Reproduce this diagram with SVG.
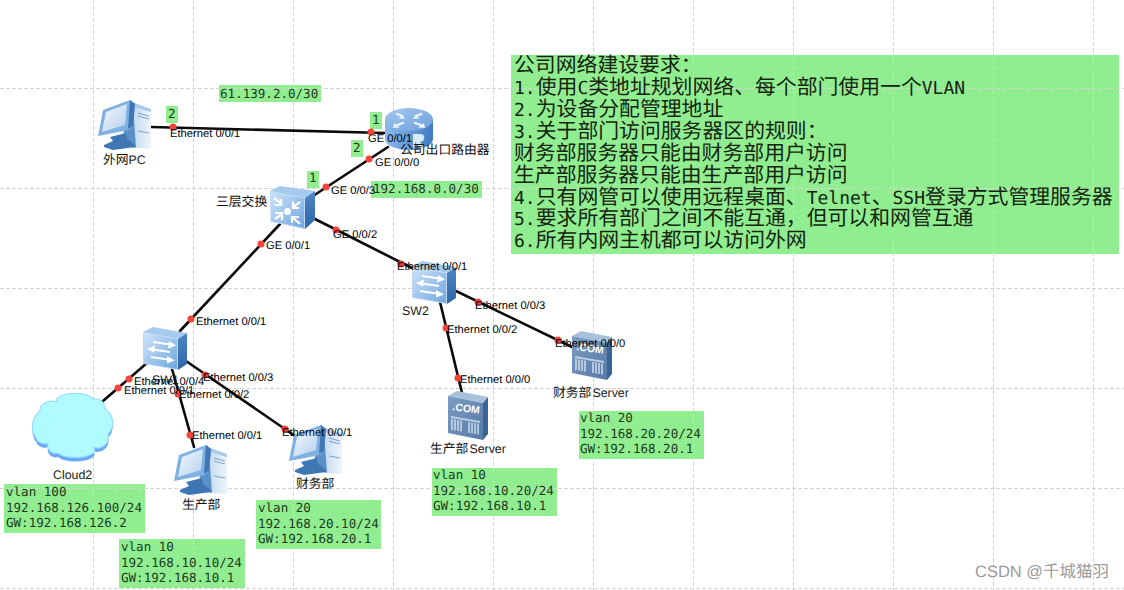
<svg xmlns="http://www.w3.org/2000/svg" width="1124" height="590" viewBox="0 0 1124 590">
<style>
text{white-space:pre;text-rendering:geometricPrecision}
.box{fill:#90ee90}
.grid{stroke:#d4d4d4;stroke-width:1;stroke-dasharray:4 2;fill:none}
.link{stroke:#0a0a0a;stroke-width:2.6;fill:none;stroke-linecap:round}
.dot{fill:#f4433a}
.port{font:11.2px "Liberation Sans","Noto Sans CJK SC",sans-serif;fill:#000}
.dev{font:12.4px "Liberation Sans","Noto Sans CJK SC",sans-serif;fill:#222}
.devc{font:12.8px "Noto Sans CJK SC",sans-serif;fill:#111}
.com{font:700 10.5px "Liberation Sans",sans-serif;fill:#fff}
.mono{font:12.55px "DejaVu Sans Mono","Liberation Mono",monospace;fill:#1c3a1c}
.note{font:20.85px "Noto Sans CJK SC",sans-serif;fill:#14240f}
.asc{font:18px "DejaVu Sans Mono","Liberation Mono",monospace}
.wm{font:16.5px "Liberation Sans","Noto Sans CJK SC",sans-serif;fill:#9a9a9a}
</style>
<defs>
<linearGradient id="gFront" x1="0" y1="0" x2="1" y2="1"><stop offset="0" stop-color="#cfe5fa"/><stop offset="1" stop-color="#6fa6de"/></linearGradient>
<linearGradient id="gSide" x1="0" y1="0" x2="0" y2="1"><stop offset="0" stop-color="#4f86c4"/><stop offset="1" stop-color="#2c66a8"/></linearGradient>
<linearGradient id="gRouter" x1="0" y1="0" x2="1" y2="0"><stop offset="0" stop-color="#8ab8ea"/><stop offset="1" stop-color="#3f7cc4"/></linearGradient>
<linearGradient id="gRouterTop" x1="0" y1="0" x2="1" y2="1"><stop offset="0" stop-color="#a5c8ef"/><stop offset="1" stop-color="#6d9fdb"/></linearGradient>
<linearGradient id="gServer" x1="0" y1="0" x2="1" y2="1"><stop offset="0" stop-color="#7d9cc2"/><stop offset="1" stop-color="#557aa8"/></linearGradient>
<linearGradient id="gScreen" x1="0" y1="0" x2="1" y2="1"><stop offset="0" stop-color="#f6fafe"/><stop offset="1" stop-color="#b3cfec"/></linearGradient>
<linearGradient id="gTower" x1="0" y1="0" x2="1" y2="0"><stop offset="0" stop-color="#c4daf0"/><stop offset="1" stop-color="#eef5fb"/></linearGradient>
<g id="pc">
<path d="M25 3 L37 7 L39 48 L26 46 Z" fill="#5b90c8"/>
<path d="M35 6 L53 11 V49 L38 48 Z" fill="url(#gTower)"/>
<path d="M25 3 L31 1 L53 9 V12 L36 7 Z" fill="#a9c9e8"/>
<path d="M40 13 L51 16 M40 16 L51 19 M40 31 L51 33" stroke="#7ea7d0" stroke-width="1.200"/>
<path d="M12 37 L28 33 L29 39 L37 45 L37 47 L15 50 L6 47 L6 45 L15 41 Z" fill="#3f76b4"/>
<path d="M5 10 L32 0 L37 4 L35 26 L31 30 L0 36 Z" fill="#7fb2e2"/>
<path d="M32 0 L37 4 L35 26 L30 29 Z" fill="#3f76b4"/>
<path d="M8 12 L29 4 L27 25 L4 32 Z" fill="url(#gScreen)"/>
</g>
<g id="sw">
<path d="M0 4 L10 -1 L44 5 L35 11 Z" fill="#a6caee"/>
<path d="M35 11 L44 5 V36 L35 42 Z" fill="url(#gSide)"/>
<path d="M0.500 4.500 L34.500 11 V41.500 L0.500 35.500 Z" fill="url(#gFront)" stroke="#bcd8f3"/>
<path d="M10 14 L31 17 M6 21 L27 24 M8 29 L28 32" stroke="#fff" stroke-width="2.200" fill="none"/>
<path d="M26 13 L33 17.500 L25 20.500 Z M12 17.500 L4 21 L11 24.500 Z M24 28 L32 32.500 L24 35.500 Z" fill="#fff"/>
</g>
<g id="l3">
<path d="M0 4 L10 -1 L45 4 L35 11 Z" fill="#a6caee"/>
<path d="M35 11 L45 4 V33 L35 42 Z" fill="url(#gSide)"/>
<path d="M0.500 4.500 L34.500 11 V41.500 L1 34.500 Z" fill="url(#gFront)" stroke="#bcd8f3"/>
<path d="M4 11 L12 17 M11 12 V18 H5 M30 15 L22 21 M23 14.500 V21 H29 M5 32 L12 27 M5 26 H12 V33 M30 37 L22 30 M22 36 V30 H29" stroke="#fff" stroke-width="2.200" fill="none"/>
<circle cx="17.500" cy="24.500" r="3.400" fill="#fff"/>
</g>
<g id="router">
<path d="M0 11 V31 A24 11 0 0 0 48 31 V11 Z" fill="url(#gRouter)"/>
<ellipse cx="24" cy="11.500" rx="24" ry="11.500" fill="url(#gRouterTop)"/>
<path d="M11 5.500 L18 8.500 M37 5.500 L30 8.500 M11 17.500 L19 14.500 M37 17.500 L29 14.500" stroke="#eaf3fc" stroke-width="2.400" fill="none"/>
<path d="M20 11 L14 10.500 L17 6 Z M28 11 L34 10.500 L31 6 Z M9 15 L15 19.500 L8 20 Z M39 15 L33 19.500 L40 20 Z" fill="#eaf3fc"/>
<path d="M28 26 H35 Q40 26 39 31 Q38 34 35 34 L40 40 H35 L30 34 V40 H28 Z" fill="#e9f3fc" opacity=".9"/>
</g>
<g id="server">
<path d="M0 4 L9 -1 L40 5 L35 11 Z" fill="#a9c0db"/>
<path d="M35 11 L40 5 V42 L35 48 Z" fill="#3b6496"/>
<path d="M0 4 L35 11 V48 L0 41 Z" fill="url(#gServer)"/>
<path d="M3 24 L32 29 V31 L3 26 Z" fill="#d0deec" opacity=".8"/>
<path d="M4 27 V38 M7 27.500 V38.500 M10 28 V39 M13 28.500 V39.500 M21 30 V41 M24 30.500 V41.500 M27 31 V42 M30 31.500 V42.500" stroke="#d0deec" stroke-width="1.500"/>
</g>
<path id="cloudShape" d="M4 45 A20 20 0 0 1 8 18 A12 9 0 0 1 25 9 A18 7 0 0 1 61 6 A10 10 0 0 1 73 16 A16 16 0 0 1 76 41 A11 11 0 0 1 61 54 A18 7 0 0 1 26 60 A8 8 0 0 1 16 50 A9 9 0 0 1 4 45 Z"/>
</defs>

<rect width="1124" height="590" fill="#fff"/>

<g id="annotations">
<rect class="box" x="511" y="55" width="608" height="199"/>
<rect class="box" x="219" y="85" width="102" height="17"/>
<rect class="box" x="371" y="181" width="111" height="17"/>
<rect class="box" x="166" y="106" width="12" height="17"/>
<rect class="box" x="370" y="112" width="12" height="17"/>
<rect class="box" x="351" y="140" width="12" height="17"/>
<rect class="box" x="307" y="171" width="12" height="17"/>
<rect class="box" x="4" y="484" width="141" height="49"/>
<rect class="box" x="119" y="539" width="126" height="49"/>
<rect class="box" x="256" y="500" width="125" height="49"/>
<rect class="box" x="432" y="468" width="125" height="48"/>
<rect class="box" x="579" y="411" width="125" height="48"/>
</g>

<path id="grid" class="grid" d="M0 88.500H1124M0 188.500H1124M0 288.500H1124M0 388.500H1124M0 488.500H1124M0 588.500H1124M93.500 0V590M193.500 0V590M293.500 0V590M393.500 0V590M493.500 0V590M593.500 0V590M693.500 0V590M793.500 0V590M893.500 0V590M993.500 0V590M1093.500 0V590"/>

<g id="connectors">
<path class="link" d="M151 127L385 133"/>
<path class="link" d="M388 147L313 196"/>
<path class="link" d="M280 224L180 331"/>
<path class="link" d="M313 218L412 268"/>
<path class="link" d="M147 363L103 401"/>
<path class="link" d="M172 369L194 447"/>
<path class="link" d="M186 361L295 436"/>
<path class="link" d="M440 302L462 393"/>
<path class="link" d="M456 291L572 347"/>
</g>

<g id="node-pc-out"><use href="#pc" x="98" y="100"/><text class="devc" x="103" y="164">外网<tspan class="dev">PC</tspan></text></g>
<g id="node-router"><use href="#router" x="385" y="108"/><text class="devc" x="400" y="154">公司出口路由器</text></g>
<g id="node-l3"><use href="#l3" x="270" y="187"/><text class="devc" x="216" y="206">三层交换</text></g>
<g id="node-sw1"><use href="#sw" x="143" y="328"/><text class="dev" x="152" y="384">SW1</text></g>
<g id="node-sw2"><use href="#sw" x="412" y="262"/><text class="dev" x="402" y="315">SW2</text></g>
<g id="node-cloud"><g transform="translate(32,393)"><use href="#cloudShape" y="4" fill="#6aa8fa"/><use href="#cloudShape" fill="#b0fbff" stroke="#9adcff" stroke-width="1.200"/></g><text class="dev" x="53" y="479">Cloud2</text></g>
<g id="node-pc-prod"><use href="#pc" x="174" y="445"/><text class="devc" x="182" y="509">生产部</text></g>
<g id="node-pc-fin"><use href="#pc" x="289" y="425"/><text class="devc" x="296" y="488">财务部</text></g>
<g id="node-srv-prod"><use href="#server" x="448" y="392"/><text class="com" x="452" y="410" transform="rotate(8 452 410)">.COM</text><text class="devc" x="430" y="453">生产部<tspan class="dev" dx="1">Server</tspan></text></g>
<g id="node-srv-fin"><use href="#server" x="572" y="332"/><text class="com" x="576" y="350" transform="rotate(8 576 350)">.COM</text><text class="devc" x="553" y="397">财务部<tspan class="dev" dx="1">Server</tspan></text></g>

<g id="port-dots">
<circle class="dot" cx="173" cy="127" r="3.500"/><circle class="dot" cx="371" cy="132" r="3.500"/>
<circle class="dot" cx="369" cy="159" r="3.500"/><circle class="dot" cx="326" cy="187" r="3.500"/>
<circle class="dot" cx="261" cy="244" r="3.500"/><circle class="dot" cx="191" cy="319" r="3.500"/>
<circle class="dot" cx="336" cy="230" r="3.500"/><circle class="dot" cx="401" cy="264" r="3.500"/>
<circle class="dot" cx="129" cy="379" r="3.500"/><circle class="dot" cx="118" cy="388" r="3.500"/>
<circle class="dot" cx="178" cy="394" r="3.500"/><circle class="dot" cx="190" cy="435" r="3.500"/>
<circle class="dot" cx="205" cy="375" r="3.500"/><circle class="dot" cx="285" cy="429" r="3.500"/>
<circle class="dot" cx="446" cy="328" r="3.500"/><circle class="dot" cx="458" cy="378" r="3.500"/>
<circle class="dot" cx="478" cy="302" r="3.500"/><circle class="dot" cx="558" cy="340" r="3.500"/>
</g>

<g id="port-labels">
<text class="port" x="170" y="137">Ethernet 0/0/1</text>
<text class="port" x="368" y="142">GE 0/0/1</text>
<text class="port" x="375" y="166">GE 0/0/0</text>
<text class="port" x="331" y="194">GE 0/0/3</text>
<text class="port" x="333" y="238">GE 0/0/2</text>
<text class="port" x="266" y="249">GE 0/0/1</text>
<text class="port" x="397" y="270">Ethernet 0/0/1</text>
<text class="port" x="196" y="325">Ethernet 0/0/1</text>
<text class="port" x="134" y="385">Ethernet 0/0/4</text>
<text class="port" x="124" y="394">Ethernet 0/0/1</text>
<text class="port" x="179" y="398">Ethernet 0/0/2</text>
<text class="port" x="203" y="381">Ethernet 0/0/3</text>
<text class="port" x="192" y="439">Ethernet 0/0/1</text>
<text class="port" x="282" y="436">Ethernet 0/0/1</text>
<text class="port" x="447" y="333">Ethernet 0/0/2</text>
<text class="port" x="460" y="383">Ethernet 0/0/0</text>
<text class="port" x="475" y="309">Ethernet 0/0/3</text>
<text class="port" x="555" y="347">Ethernet 0/0/0</text>
</g>

<g id="annotation-text">
<text class="mono" x="220" y="98">61.139.2.0/30</text>
<text class="mono" x="373" y="193">192.168.0.0/30</text>
<text class="mono" x="168" y="118">2</text>
<text class="mono" x="372" y="124">1</text>
<text class="mono" x="353" y="152">2</text>
<text class="mono" x="309" y="182">1</text>
<text class="mono" x="6" y="496">vlan 100</text><text class="mono" x="6" y="512">192.168.126.100/24</text><text class="mono" x="6" y="527">GW:192.168.126.2</text>
<text class="mono" x="121" y="551">vlan 10</text><text class="mono" x="121" y="567">192.168.10.10/24</text><text class="mono" x="121" y="582">GW:192.168.10.1</text>
<text class="mono" x="258" y="512">vlan 20</text><text class="mono" x="258" y="528">192.168.20.10/24</text><text class="mono" x="258" y="543">GW:192.168.20.1</text>
<text class="mono" x="433" y="479">vlan 10</text><text class="mono" x="433" y="495">192.168.10.20/24</text><text class="mono" x="433" y="510">GW:192.168.10.1</text>
<text class="mono" x="580" y="422">vlan 20</text><text class="mono" x="580" y="438">192.168.20.20/24</text><text class="mono" x="580" y="453">GW:192.168.20.1</text>
<text class="note" x="514" y="72">公司网络建设要求：</text>
<text class="note" x="514" y="94"><tspan class="asc">1.</tspan>使用<tspan class="asc">C</tspan>类地址规划网络、每个部门使用一个<tspan class="asc">VLAN</tspan></text>
<text class="note" x="514" y="116"><tspan class="asc">2.</tspan>为设备分配管理地址</text>
<text class="note" x="514" y="138"><tspan class="asc">3.</tspan>关于部门访问服务器区的规则：</text>
<text class="note" x="514" y="160">财务部服务器只能由财务部用户访问</text>
<text class="note" x="514" y="182">生产部服务器只能由生产部用户访问</text>
<text class="note" x="514" y="204"><tspan class="asc">4.</tspan>只有网管可以使用远程桌面、<tspan class="asc">Telnet</tspan>、<tspan class="asc">SSH</tspan>登录方式管理服务器</text>
<text class="note" x="514" y="225"><tspan class="asc">5.</tspan>要求所有部门之间不能互通，但可以和网管互通</text>
<text class="note" x="514" y="247"><tspan class="asc">6.</tspan>所有内网主机都可以访问外网</text>
</g>
<text class="wm" x="975" y="577">CSDN @千城猫羽</text>
</svg>
